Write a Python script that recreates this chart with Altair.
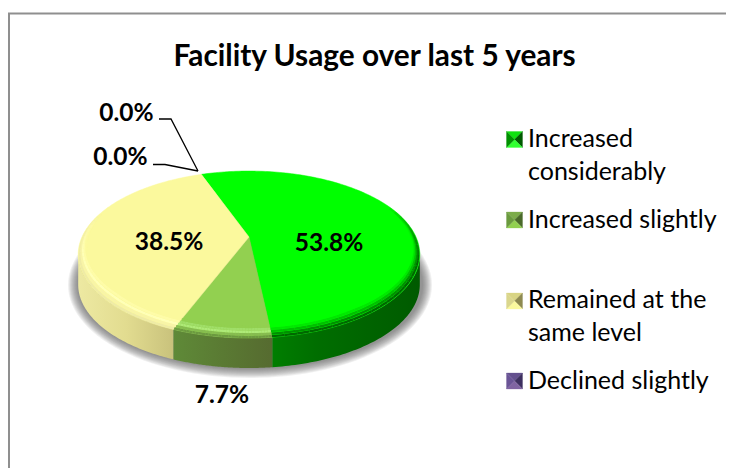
import numpy as np
import altair as alt

# ---------- data ----------
categories = ["Increased considerably", "Increased slightly", "Remained at the same level", "Declined slightly", "Declined considerably"]
values = [53.8, 7.7, 38.5, 0.0, 0.0]
value_labels = ["53.8%", "7.7%", "38.5%", "0.0%", "0.0%"]
title_text = "Facility Usage over last 5 years"
legend_lines = [["Increased", "considerably"], ["Increased slightly"], ["Remained at the", "same level"], ["Declined slightly"]]

top_colors = ["#00FF00", "#92D050", "#FBF99D"]
wall_stops = [
    [("#007E00", 0), ("#006E00", 0.3), ("#005A00", 1)],
    [("#5F8A38", 0), ("#5A7A33", 0.5), ("#566B30", 1)],
    [("#EDE9A2", 0), ("#E2DC90", 0.5), ("#C9C27C", 1)],
]
bevel_ramps = [
    ["#006800", "#009000", "#00C000", "#00E800", "#00FF00"],
    ["#6C9A40", "#86BC50", "#AEEA78", "#A0DE68", "#92D050"],
    ["#EFEBA6", "#F8F4A8", "#FFFFB8", "#FEFCA8", "#FBF99D"],
]
swatches = [
    {"top": "#10E010", "left": "#009000", "right": "#005A00", "bottom": "#30FF30"},
    {"top": "#7CAC4A", "left": "#6A9A3E", "right": "#4A6A2A", "bottom": "#92D050"},
    {"top": "#D8D484", "left": "#DAD68C", "right": "#8E8A50", "bottom": "#FBF99D"},
    {"top": "#64508E", "left": "#6A5496", "right": "#3E3060", "bottom": "#8064A2"},
]

# ---------- layout ----------
W, H = 718, 460
APEX = (249.0, 237.0)
A, B, K = 79.8, 167.0, 0.21
START = -20.0
DEPTH = 30.0


def rim(theta_deg, r=1.0):
    t = np.radians(theta_deg)
    u, v = r * np.sin(t), r * np.cos(t)
    d = 1 + K * v
    return APEX[0] + B * u / d, APEX[1] - A * v / d


def poly(points, **props):
    pts = [[float(x), float(y)] for x, y in points]
    if pts[0] != pts[-1]:
        pts.append(pts[0])
    return {"type": "Feature", "properties": props, "geometry": {"type": "Polygon", "coordinates": [pts]}}


X = alt.X("x:Q", scale=alt.Scale(domain=[8, 8 + W], nice=False, zero=False), axis=None)
Y = alt.Y("y:Q", scale=alt.Scale(domain=[8 + H, 8], nice=False, zero=False), axis=None)
proj = alt.Projection(type="identity", scale=1, translate=[-8, -8])


def shapes(features):
    return alt.Chart(alt.Data(values=features))


layers = []

# frame
frame_color = "#8F8F8F"
layers.append(alt.Chart(alt.Data(values=[{"x": 8, "x2": 726, "y": 13.5}])).mark_rule(color=frame_color, strokeWidth=2)
              .encode(x=X, x2="x2:Q", y=Y))
layers.append(alt.Chart(alt.Data(values=[{"x": 9, "y": 13, "y2": 468}])).mark_rule(color=frame_color, strokeWidth=2)
              .encode(x=X, y=Y, y2="y2:Q"))

# shadow
shadow = []
sweep = np.linspace(0, 360, 121)
for s in range(10, 0, -1):
    pts = [(250 + (172 + s) * np.sin(t), 285 + (83 + s) * np.cos(t)) for t in np.radians(sweep)]
    shadow.append(poly(pts))
layers.append(shapes(shadow).mark_geoshape(fill="#505050", fillOpacity=0.085, strokeWidth=0).project(**proj.to_dict()))

# slice angle limits
edges = [START]
for v in values[:3]:
    edges.append(edges[-1] + v / sum(values) * 360)

fine = np.linspace(START, START + 360, 1441)
xs = np.array([rim(t)[0] for t in fine])
th_right = fine[np.argmax(xs)]
th_left = fine[np.argmin(xs)]

# walls
for i in range(3):
    lo, hi = max(edges[i], th_right), min(edges[i + 1], th_left)
    ts = np.linspace(lo, hi, 80)
    upper = [rim(t) for t in ts]
    lower = [(x, y + DEPTH) for x, y in reversed(upper)]
    grad = alt.LinearGradient(gradient="linear", x1=0, x2=1, y1=0, y2=0,
                              stops=[alt.GradientStop(color=c, offset=o) for c, o in wall_stops[i]])
    layers.append(shapes([poly(upper + lower)]).mark_geoshape(fill=grad, strokeWidth=0).project(**proj.to_dict()))

# top faces
tops = []
for i in range(3):
    ts = np.linspace(edges[i], edges[i + 1], 160)
    tops.append(poly([APEX] + [rim(t) for t in ts], c=top_colors[i]))
layers.append(shapes(tops).mark_geoshape(strokeWidth=0.5)
              .encode(fill=alt.Fill("properties.c:N", scale=None), stroke=alt.Stroke("properties.c:N", scale=None))
              .project(**proj.to_dict()))

# bevel bands along the front rim, narrowing and fading out at the sides
rows = []
band_lo, band_hi = th_right - 35, th_left + 30
for i in range(3):
    for j, c in enumerate(bevel_ramps[i]):
        lo, hi = max(edges[i], band_lo), min(edges[i + 1], band_hi)
        cuts = np.linspace(lo, hi, 31)
        for seg in range(30):
            mid = (cuts[seg] + cuts[seg + 1]) / 2
            fade = float(min(1.0, (mid - band_lo) / 40, (band_hi - mid) / 30))
            for n, t in enumerate(np.linspace(cuts[seg], cuts[seg + 1], 5)):
                w = max(0.0, min(1.0, (t - band_lo) / 80, (band_hi - t) / 60))
                r = 1 - 0.009 - w * j * 0.02
                x, y = rim(t, r)
                rows.append({"x": float(x), "y": float(y), "id": f"{i}-{j}-{seg}", "c": c, "n": n, "o": round(fade, 3)})
layers.append(alt.Chart(alt.Data(values=rows)).mark_line(strokeWidth=2.4, strokeCap="butt")
              .encode(x=X, y=Y, detail="id:N", color=alt.Color("c:N", scale=None),
                      opacity=alt.Opacity("o:Q", scale=None), order="n:Q"))

# leader lines
leaders = [[(159, 119), (171, 119), (198, 171)], [(153, 164.5), (165, 164.5), (198, 171)]]
rows = [{"x": x, "y": y, "id": k, "n": n} for k, l in enumerate(leaders) for n, (x, y) in enumerate(l)]
layers.append(alt.Chart(alt.Data(values=rows)).mark_line(color="#000000", strokeWidth=1.3)
              .encode(x=X, y=Y, detail="id:N", order="n:Q"))

# legend swatches
SW = 16
sw_centers = [(514.5, 139.5), (514.5, 220), (514.5, 301), (514.5, 381)]
tris = []
for (cx, cy), s in zip(sw_centers, swatches):
    h = SW / 2
    a, b, c_, d = (cx - h, cy - h), (cx + h, cy - h), (cx + h, cy + h), (cx - h, cy + h)
    m = (cx, cy)
    tris += [poly([a, b, m], c=s["top"]), poly([b, c_, m], c=s["right"]),
             poly([c_, d, m], c=s["bottom"]), poly([d, a, m], c=s["left"])]
layers.append(shapes(tris).mark_geoshape(strokeWidth=0.3)
              .encode(fill=alt.Fill("properties.c:N", scale=None), stroke=alt.Stroke("properties.c:N", scale=None))
              .project(**proj.to_dict()))

# legend text
baselines = [[147, 180], [228], [308, 341], [389]]
rows = [{"x": 528, "y": y, "t": t} for lines, bs in zip(legend_lines, baselines) for t, y in zip(lines, bs)]
layers.append(alt.Chart(alt.Data(values=rows)).mark_text(font="Lato", fontSize=25, align="left", baseline="alphabetic", color="#000000")
              .encode(x=X, y=Y, text="t:N"))

# data labels
label_pos = [(329, 251), (222, 403), (169, 250), (126.5, 121), (120.5, 165)]
rows = [{"x": p[0], "y": p[1], "t": t} for p, t in zip(label_pos, value_labels)]
layers.append(alt.Chart(alt.Data(values=rows)).mark_text(font="Lato", fontSize=24.5, fontWeight="bold", align="center", baseline="alphabetic", color="#000000")
              .encode(x=X, y=Y, text="t:N"))

# title
layers.append(alt.Chart(alt.Data(values=[{"x": 374.5, "y": 66, "t": title_text}]))
              .mark_text(font="Lato", fontSize=29.8, fontWeight="bold", align="center", baseline="alphabetic", color="#000000")
              .encode(x=X, y=Y, text="t:N"))

chart = alt.layer(*layers).properties(width=W, height=H, padding=0, background="#FFFFFF",
                                      autosize=alt.AutoSizeParams(type="none")).configure_view(stroke=None)
chart.save("out.html", embed_options={"renderer": "svg", "actions": False})
